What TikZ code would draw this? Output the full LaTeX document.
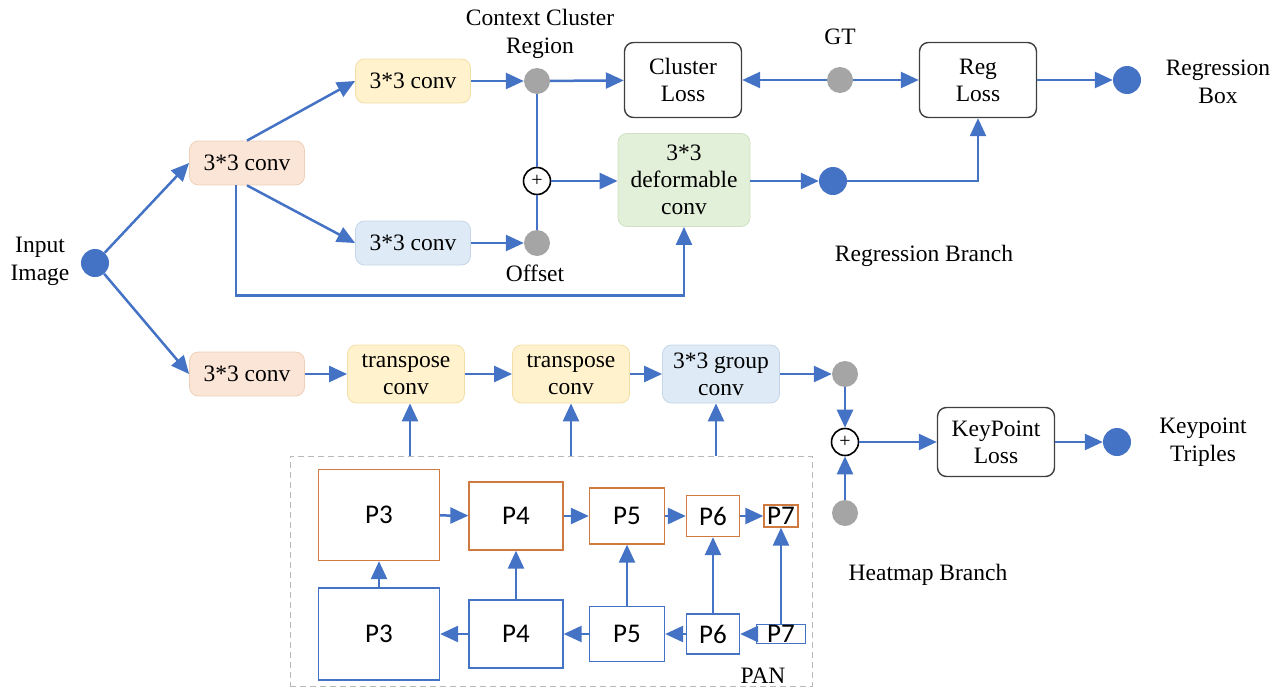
\documentclass[tikz,border=0pt]{standalone}
\usepackage{fontspec}
\setmainfont{Liberation Serif}
\newfontfamily\calfont{Carlito}
\usetikzlibrary{arrows.meta}
\definecolor{lblue}{HTML}{4472C4}
\definecolor{dotgray}{HTML}{A5A5A5}
\definecolor{peach}{HTML}{FBE5D6}
\definecolor{peachb}{HTML}{EFCFB8}
\definecolor{yel}{HTML}{FFF2CC}
\definecolor{yelb}{HTML}{F2DFA8}
\definecolor{lbl}{HTML}{DEEBF7}
\definecolor{lblb}{HTML}{C5D6E8}
\definecolor{grn}{HTML}{E2F0D9}
\definecolor{grnb}{HTML}{CFE0C3}
\definecolor{orng}{HTML}{CF7A40}
\definecolor{pblue}{HTML}{4472C4}
\begin{document}
\begin{tikzpicture}[x=1pt,y=-1pt,
  txt/.style={font=\fontsize{23.5}{28}\selectfont, align=center, inner sep=0pt},
  conv/.style={rounded corners=9pt, minimum width=115pt, minimum height=44pt, inner sep=1pt,
     font=\fontsize{23.5}{27}\selectfont, align=center, line width=0.8pt},
  peachbox/.style={conv, fill=peach, draw=peachb},
  yelbox/.style={conv, fill=yel, draw=yelb},
  bluebox/.style={conv, fill=lbl, draw=lblb},
  grnbox/.style={conv, fill=grn, draw=grnb},
  lossbox/.style={conv, fill=white, draw=black!75, line width=1.4pt, minimum width=117pt},
  arr/.style={draw=lblue, line width=2.5pt, -{Triangle[length=18pt,width=16pt]}},
  ln/.style={draw=lblue, line width=2.5pt},
  graydot/.style={circle, fill=dotgray, minimum size=26pt, inner sep=0pt},
  bluedot/.style={circle, fill=lblue, minimum size=28pt, inner sep=0pt},
  plusnode/.style={circle, draw=black, line width=1.6pt, fill=white, minimum size=27pt, inner sep=0pt,
     font=\fontsize{20}{20}\selectfont},
  pbox/.style={draw=orng, line width=1.3pt, font=\calfont\fontsize{27}{27}\selectfont, inner sep=0pt},
  qbox/.style={draw=pblue, line width=1.3pt, font=\calfont\fontsize{27}{27}\selectfont, inner sep=0pt}
]
\useasboundingbox (0,0) rectangle (1286,691);

% ---------- texts ----------
\node[txt] (tinput) at (40,261) {Input\\Image};
\node[txt] (tctx) at (540,34) {Context Cluster\\Region};
\node[txt] (toff) at (535,273) {Offset};
\node[txt] (tgt) at (840,37) {GT};
\node[txt] (tregbox) at (1218,82) {Regression\\Box};
\node[txt] (tregbr) at (924,256) {Regression Branch};
\node[txt] (tkp) at (1203,442) {Keypoint\\Triples};
\node[txt] (theat) at (928,575) {Heatmap Branch};

% ---------- regression branch ----------
\node[bluedot] (in) at (95,263) {};
\node[peachbox] (c1) at (247,163) {3*3 conv};
\node[yelbox] (c2) at (413,81) {3*3 conv};
\node[bluebox] (c3) at (413,243) {3*3 conv};
\node[graydot] (ctx) at (537,81) {};
\node[graydot] (off) at (537,243) {};
\node[plusnode] (pl1) at (537,181) {+};
\node[lossbox, minimum height=75pt] (cl) at (683,80) {Cluster\\Loss};
\node[grnbox, minimum width=132pt, minimum height=93pt] (def) at (684,180) {3*3\\deformable\\conv};
\node[graydot] (gt) at (840,80) {};
\node[lossbox, minimum height=75pt] (rl) at (978,80) {Reg\\Loss};
\node[bluedot] (bd1) at (833,181) {};
\node[bluedot] (bd2) at (1127,80) {};

\draw[arr] (in) -- (c1.west);
\draw[arr] (c1.north) -- (c2.west);
\draw[arr] (c1.south) -- (c3.west);
\draw[arr] ([xshift=-11pt]c1.south) -- ++(0,110) -| (def.south);
\draw[arr] (c2) -- (ctx);
\draw[arr] (c3) -- (off);
\draw[ln] (ctx) -- (pl1);
\draw[ln] (pl1) -- (off);
\draw[arr] (ctx) -- (cl);
\draw[arr] (pl1) -- (def.west |- pl1);
\draw[arr] (gt) -- (cl.east);
\draw[arr] (gt) -- (rl.west);
\draw[arr] (def.east |- bd1) -- (bd1);
\draw[arr] (bd1) -| (rl.south);
\draw[arr] (rl) -- (bd2);

% ---------- heatmap branch ----------
\node[peachbox] (c4) at (247,374) {3*3 conv};
\node[yelbox, minimum width=117pt, minimum height=58pt] (t1) at (406,374) {transpose\\conv};
\node[yelbox, minimum width=117pt, minimum height=58pt] (t2) at (571,374) {transpose\\conv};
\node[bluebox, minimum width=117pt, minimum height=58pt] (gc) at (721,374) {3*3 group\\conv};
\node[graydot] (g1) at (845,374) {};
\node[plusnode] (pl2) at (845,442) {+};
\node[graydot] (g2) at (845,513) {};
\node[lossbox, minimum height=69pt] (kl) at (996,442) {KeyPoint\\Loss};
\node[bluedot] (bd3) at (1117,442) {};

\draw[arr] (in) -- (c4.west);
\draw[arr] (c4) -- (t1);
\draw[arr] (t1) -- (t2);
\draw[arr] (t2) -- (gc);
\draw[arr] (gc) -- (g1);
\draw[arr] (g1) -- (pl2);
\draw[arr] (g2) -- (pl2);
\draw[arr] (pl2) -- (kl);
\draw[arr] (kl) -- (bd3);

% ---------- PAN ----------
\node[draw=black!28, line width=1pt, dash pattern=on 6pt off 4pt, minimum width=522pt, minimum height=230pt, inner sep=0pt] (pan) at (551,571) {};
\node[txt, anchor=base] (tpan) at (763,683) {PAN};

\draw[arr] ([xshift=4pt]t1.south |- pan.north) -- ([xshift=4pt]t1.south);
\draw[arr] (t2.south |- pan.north) -- (t2.south);
\draw[arr] ([xshift=-5pt]gc.south |- pan.north) -- ([xshift=-5pt]gc.south);

\node[pbox, minimum width=121pt, minimum height=91pt] (tp3) at (379,515) {P3};
\node[pbox, minimum width=94pt, minimum height=68pt] (tp4) at (516,516) {P4};
\node[pbox, minimum width=75pt, minimum height=56pt] (tp5) at (627,516) {P5};
\node[pbox, minimum width=53pt, minimum height=41pt] (tp6) at (713,516) {P6};
\node[pbox, minimum width=34pt, minimum height=22pt] (tp7) at (781,516) {P7};

\node[qbox, minimum width=121pt, minimum height=92pt] (bp3) at (379,634) {P3};
\node[qbox, minimum width=94pt, minimum height=68pt] (bp4) at (516,634) {P4};
\node[qbox, minimum width=75pt, minimum height=55pt] (bp5) at (627,634) {P5};
\node[qbox, minimum width=53pt, minimum height=40pt] (bp6) at (713,634) {P6};
\node[qbox, minimum width=49pt, minimum height=19pt] (bp7) at (781,634) {P7};

\draw[arr] (tp3) -- (tp4);
\draw[arr] (tp4) -- (tp5);
\draw[arr] (tp5) -- (tp6);
\draw[arr] (tp6) -- (tp7);
\draw[arr] (bp7) -- (bp6);
\draw[arr] (bp6) -- (bp5);
\draw[arr] (bp5) -- (bp4);
\draw[arr] (bp4) -- (bp3);
\draw[arr] (bp3) -- (tp3);
\draw[arr] (bp4) -- (tp4);
\draw[arr] (bp5) -- (tp5);
\draw[arr] (bp6) -- (tp6);
\draw[arr] (bp7) -- (tp7);
\end{tikzpicture}
\end{document}
